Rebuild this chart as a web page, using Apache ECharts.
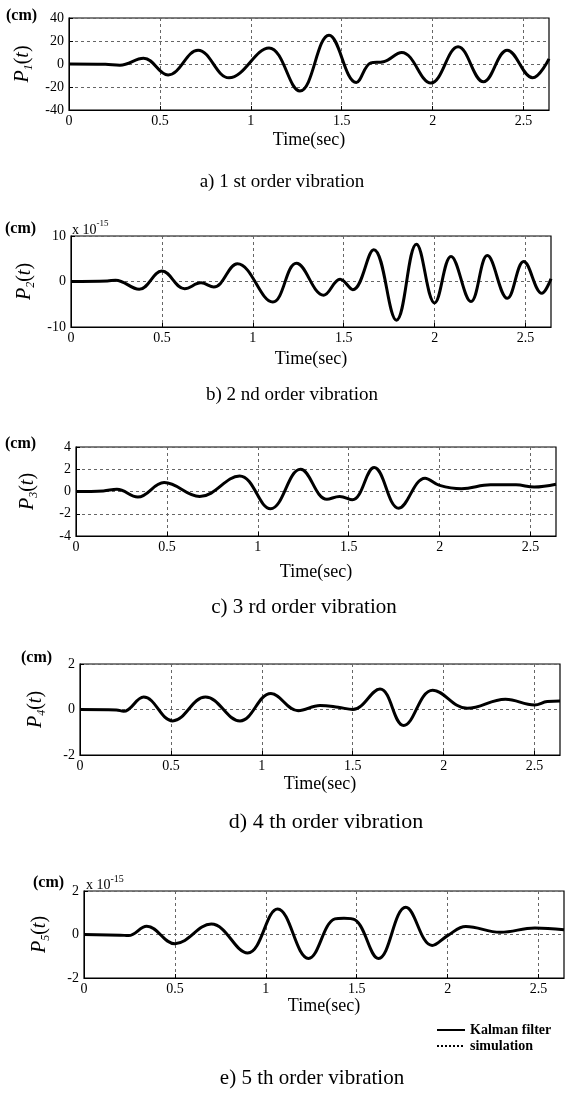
<!DOCTYPE html>
<html><head><meta charset="utf-8">
<script src="https://cdn.jsdelivr.net/npm/echarts@6/dist/echarts.min.js"></script>
<style>html,body{margin:0;padding:0;background:#fff}#c{width:570px;height:1118px}</style>
</head><body><div id="c"></div>
<script>
// ---- DATA (peaks, troughs and shoulders) ----
const xTickStep = 0.5;
const tMax = 2.64;

const t1 = [0,0.2,0.28,0.41,0.545,0.71,0.88,1.10,1.27,1.43,1.58,1.66,1.73,1.83,1.99,2.14,2.28,2.41,2.55,2.64];
const p1 = [0,-0.3,-1,5,-9.5,12,-12,14,-23.5,25,-16,1,2,10,-16.5,15,-15.5,12,-12,4.5];

const t2 = [0,0.2,0.245,0.375,0.5,0.625,0.715,0.785,0.915,1.11,1.24,1.39,1.48,1.55,1.665,1.79,1.90,2.0,2.09,2.2,2.29,2.40,2.49,2.59,2.64];
const p2 = [0,0.1,0.3,-1.7,2.3,-1.6,-0.3,-1.2,3.9,-4.5,4,-3,0.5,-1.8,7,-8.5,8.2,-4.7,5.5,-4.4,5.7,-3.7,4.4,-2.6,0.6];

const t3 = [0,0.15,0.225,0.34,0.485,0.68,0.90,1.07,1.235,1.38,1.45,1.52,1.64,1.775,1.92,2.0,2.12,2.28,2.42,2.52,2.64];
const p3 = [0,0.05,0.2,-0.5,0.8,-0.45,1.4,-1.55,2.0,-0.7,-0.45,-0.75,2.15,-1.5,1.2,0.55,0.25,0.6,0.6,0.4,0.65];

const t4 = [0,0.2,0.24,0.35,0.51,0.69,0.88,1.05,1.2,1.32,1.42,1.5,1.65,1.78,1.94,2.13,2.34,2.5,2.57,2.64];
const p4 = [0,-0.02,-0.08,0.55,-0.5,0.55,-0.5,0.7,-0.05,0.18,0.1,0,0.9,-0.7,0.85,0.05,0.45,0.2,0.35,0.37];

const t5 = [0,0.2,0.245,0.345,0.5,0.70,0.90,1.065,1.235,1.38,1.43,1.49,1.62,1.77,1.915,2.0,2.1,2.29,2.48,2.64];
const p5 = [0,-0.03,-0.05,0.38,-0.42,0.48,-0.85,1.17,-1.1,0.72,0.75,0.68,-1.1,1.25,-0.5,-0.05,0.37,0.1,0.3,0.22];

const yRanges = [[-40,40,20],[-10,10,10],[-4,4,2],[-2,2,2],[-2,2,2]];
const subs = ['1','2','3','4','5'];
const captions = ['a) 1 st order vibration','b) 2 nd order vibration','c) 3 rd order vibration','d) 4 th order vibration','e) 5 th order vibration'];
const seriesNames = ['Kalman filter','simulation'];
const xName = 'Time(sec)';
const unitText = '(cm)';
const expText = ['x 10','-15'];

// ---- LAYOUT ----
const L = [
  {left:69, top:18,  h:92, nameGap:21, yGap:30, cmX:6,  cmY:16,  capX:282, capY:182, capF:19},
  {left:71, top:236, h:91, nameGap:23, yGap:32, cmX:5,  cmY:229, capX:292, capY:395, capF:19},
  {left:76, top:447, h:89, nameGap:27, yGap:36, cmX:5,  cmY:444, capX:304, capY:607, capF:21},
  {left:80, top:664, h:91, nameGap:20, yGap:32, cmX:21, cmY:658, capX:326, capY:822, capF:22},
  {left:84, top:891, h:87, nameGap:5,  yGap:32, cmX:33, cmY:883, capX:312, capY:1078, capF:21}
];
const W = 480;
const serif = 'Liberation Serif, Times New Roman, serif';

const datasets = [[t1,p1],[t2,p2],[t3,p3],[t4,p4],[t5,p5]];
const grids=[], xAxes=[], yAxes=[], series=[], gfx=[];
datasets.forEach(([t,v],i)=>{
  const l = L[i];
  const pts = t.map((x,k)=>[x,v[k]]);
  grids.push({left:l.left, top:l.top, width:W, height:l.h, show:true, borderColor:'#000', borderWidth:1.2, backgroundColor:'transparent'});
  xAxes.push({gridIndex:i, type:'value', min:0, max:tMax, interval:xTickStep,
    name:xName, nameLocation:'middle', nameGap:l.nameGap,
    nameTextStyle:{fontFamily:serif, fontSize:18, color:'#000'},
    axisLine:{onZero:false, lineStyle:{color:'#000'}}, axisTick:{inside:true, length:4, lineStyle:{color:'#000'}},
    axisLabel:{fontFamily:serif, fontSize:14, color:'#000', margin:4, showMaxLabel:false},
    splitLine:{show:true, lineStyle:{color:'#666', type:[3,3], width:1}}});
  const yr = yRanges[i];
  yAxes.push({gridIndex:i, type:'value', min:yr[0], max:yr[1], interval:yr[2],
    name:'{i|P}{s|'+subs[i]+'}{n|(}{i|t}{n|)}', nameLocation:'middle', nameGap:l.yGap, nameRotate:90,
    nameTextStyle:{rich:{
      i:{fontFamily:serif, fontStyle:'italic', fontSize:20, color:'#000', lineHeight:24, verticalAlign:'middle'},
      n:{fontFamily:serif, fontSize:20, color:'#000', lineHeight:24, verticalAlign:'middle'},
      s:{fontFamily:serif, fontStyle:'italic', fontSize:12, color:'#000', lineHeight:24, verticalAlign:'bottom'}}},
    axisLine:{onZero:false, lineStyle:{color:'#000'}}, axisTick:{inside:true, length:4, lineStyle:{color:'#000'}},
    axisLabel:{fontFamily:serif, fontSize:14, color:'#000', margin:5},
    splitLine:{show:true, lineStyle:{color:'#666', type:[3,3], width:1}}});
  series.push({name:seriesNames[1], type:'line', xAxisIndex:i, yAxisIndex:i, data:pts, symbol:'none', smooth:0.4,
    itemStyle:{color:'#000'}, lineStyle:{color:'#000', width:1.2, type:'dotted'}, z:2});
  series.push({name:seriesNames[0], type:'line', xAxisIndex:i, yAxisIndex:i, data:pts, symbol:'none', smooth:0.4,
    itemStyle:{color:'#000'}, lineStyle:{color:'#000', width:3}, z:3});
  gfx.push({type:'text', x:l.cmX, y:l.cmY, style:{text:unitText, font:'bold 16px '+serif, fill:'#000', verticalAlign:'middle'}});
  gfx.push({type:'text', x:l.capX, y:l.capY, style:{text:captions[i], font:l.capF+'px '+serif, fill:'#000', align:'center', verticalAlign:'middle'}});
});
gfx.push({type:'text', x:L[1].left+1, y:L[1].top-8, style:{text:'{a|'+expText[0]+'}{b|'+expText[1]+'}', rich:{a:{font:'14px '+serif, fill:'#000', lineHeight:18, verticalAlign:'bottom'}, b:{font:'9px '+serif, fill:'#000', lineHeight:18, verticalAlign:'top'}}, verticalAlign:'middle'}});
gfx.push({type:'text', x:L[4].left+2, y:L[4].top-8, style:{text:'{a|'+expText[0]+'}{b|'+expText[1]+'}', rich:{a:{font:'14px '+serif, fill:'#000', lineHeight:18, verticalAlign:'bottom'}, b:{font:'10px '+serif, fill:'#000', lineHeight:18, verticalAlign:'top'}}, verticalAlign:'middle'}});

const chart = echarts.init(document.getElementById('c'), null, {renderer:'canvas'});
chart.setOption({
  animation:false,
  backgroundColor:'#fff',
  grid:grids, xAxis:xAxes, yAxis:yAxes, series:series,
  legend:{data:seriesNames, orient:'vertical', left:436, top:1023, itemGap:2, itemWidth:28, itemHeight:12,
    itemStyle:{opacity:0},
    textStyle:{fontFamily:serif, fontSize:14, fontWeight:'bold', color:'#000'}, padding:0},
  graphic:gfx
});
</script></body></html>
